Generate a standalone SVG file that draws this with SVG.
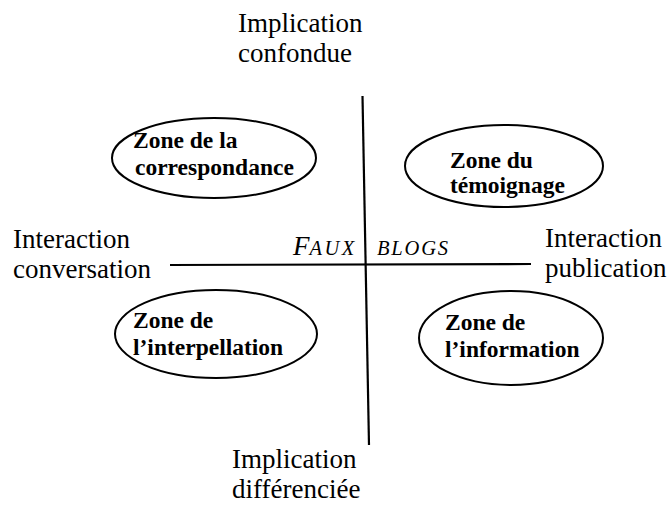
<svg xmlns="http://www.w3.org/2000/svg" width="668" height="506" viewBox="0 0 668 506">
<style>
.lbl{font-family:"Liberation Serif","Times New Roman",serif;font-size:27px;fill:#000}
.zone{font-family:"Liberation Serif","Times New Roman",serif;font-size:23.5px;font-weight:bold;fill:#000}
.ell{fill:none;stroke:#000;stroke-width:2}
.axis{stroke:#000;stroke-width:2.2;fill:none}
.it{font-family:"Liberation Serif","Times New Roman",serif;font-style:italic;fill:#000}
</style>
<rect width="668" height="506" fill="#fff"/>
<g id="axes">
<line class="axis" x1="362.5" y1="96" x2="369" y2="445"/>
<line class="axis" x1="170" y1="265" x2="531" y2="264"/>
</g>
<g id="label-top">
<text class="lbl" x="238" y="32">Implication</text>
<text class="lbl" x="238" y="62">confondue</text>
</g>
<g id="label-bottom">
<text class="lbl" x="232" y="468">Implication</text>
<text class="lbl" x="232" y="498">différenciée</text>
</g>
<g id="label-left">
<text class="lbl" x="13" y="248">Interaction</text>
<text class="lbl" x="13" y="278">conversation</text>
</g>
<g id="label-right">
<text class="lbl" x="545" y="247">Interaction</text>
<text class="lbl" x="545" y="277">publication</text>
</g>
<g id="center">
<text class="it" x="293" y="255"><tspan font-size="27">F</tspan><tspan font-size="20.5" letter-spacing="2.5">AUX</tspan></text>
<text class="it" x="377" y="255" font-size="20.5" letter-spacing="1.8">BLOGS</text>
</g>
<g id="zone-correspondance">
<ellipse class="ell" cx="214" cy="158" rx="102" ry="40"/>
<text class="zone" x="133" y="148">Zone de la</text>
<text class="zone" x="135" y="175">correspondance</text>
</g>
<g id="zone-temoignage">
<ellipse class="ell" cx="504" cy="166" rx="99" ry="41"/>
<text class="zone" x="450" y="168">Zone du</text>
<text class="zone" x="450" y="193">témoignage</text>
</g>
<g id="zone-interpellation">
<ellipse class="ell" cx="216" cy="334" rx="101" ry="44"/>
<text class="zone" x="133" y="328">Zone de</text>
<text class="zone" x="133" y="355">l’interpellation</text>
</g>
<g id="zone-information">
<ellipse class="ell" cx="511" cy="338" rx="92" ry="47"/>
<text class="zone" x="445" y="330">Zone de</text>
<text class="zone" x="445" y="357">l’information</text>
</g>
</svg>
